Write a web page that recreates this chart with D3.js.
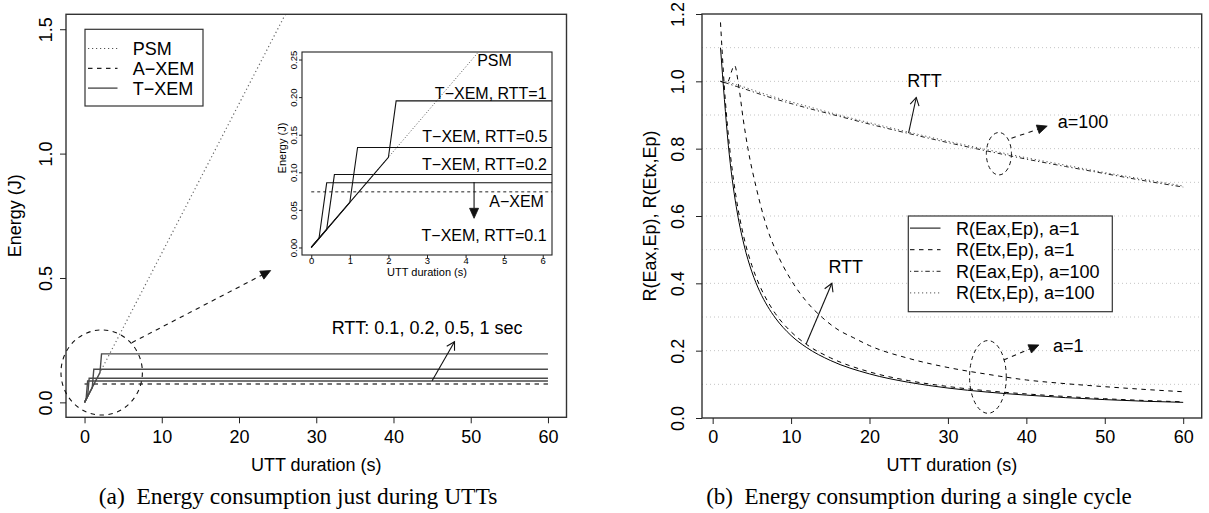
<!DOCTYPE html>
<html><head><meta charset="utf-8">
<script src="https://cdn.jsdelivr.net/npm/d3@7"></script>
<style>
body{margin:0;background:#fff}
svg{display:block}
text{fill:#000}
.sans{font-family:"Liberation Sans",Arial,Helvetica,sans-serif}
.serif{font-family:"Liberation Serif","Times New Roman",serif}
</style>
</head><body>
<svg id="c" width="1209" height="513"></svg>
<script>
// ---------------- DATA ----------------
// (a) Energy consumption just during UTTs
const rttValues      = [0.1, 0.2, 0.5, 1];
const txemJumpStartX = [0.2, 0.4, 1.0, 2.0];
const txemJumpStartY = [0.012, 0.024, 0.06, 0.12];
const txemJumpEndX   = [0.4, 0.6, 1.2, 2.2];
const txemLevels     = [0.086, 0.097, 0.133, 0.195];
const txemEndX       = 60;
const psmX  = [0, 60];
const psmY  = [0, 3.6];
const axemX = [0, 60];
const axemY = [0.074, 0.074];
const xTicksA = [0, 10, 20, 30, 40, 50, 60];
const yTicksA = [0.0, 0.5, 1.0, 1.5];
const xTicksInset = [0, 1, 2, 3, 4, 5, 6];
const yTicksInset = [0.00, 0.05, 0.10, 0.15, 0.20, 0.25];
const legendA = ["PSM", "A\u2212XEM", "T\u2212XEM"];

// (b) Energy consumption during a single cycle
const xA1      = [1, 1.5, 2, 2.5, 3, 4, 5, 6, 7, 8, 10, 12, 15, 20, 25, 30, 35, 40, 45, 50, 55, 60];
const eaxA1    = [1.10, 0.946, 0.810, 0.708, 0.629, 0.514, 0.434, 0.376, 0.332, 0.297, 0.245, 0.209, 0.171, 0.131, 0.106, 0.089, 0.077, 0.068, 0.0605, 0.0546, 0.0498, 0.0465];
const etxA1Low = [1.175, 0.980, 0.840, 0.736, 0.654, 0.535, 0.453, 0.393, 0.347, 0.310, 0.256, 0.218, 0.179, 0.137, 0.111, 0.0936, 0.0808, 0.0715, 0.0639, 0.0573, 0.0521, 0.048];
const xA1High  = [1, 1.8, 2.8, 3.3, 3.9, 4.5, 5.6, 7, 8, 10, 12, 14, 16, 18, 20, 25, 30, 35, 40, 45, 50, 55, 60];
const etxA1High= [1.0, 0.995, 1.047, 0.99, 0.887, 0.80, 0.68, 0.56, 0.50, 0.41, 0.345, 0.298, 0.262, 0.238, 0.215, 0.177, 0.150, 0.130, 0.113, 0.102, 0.093, 0.085, 0.078];
const xA100    = [1, 2, 3, 4, 5, 7.5, 10, 12.5, 15, 20, 25, 30, 35, 40, 45, 50, 55, 60];
const eaxA100  = [1.0, 0.993, 0.985, 0.978, 0.970, 0.951, 0.934, 0.918, 0.903, 0.873, 0.845, 0.818, 0.793, 0.769, 0.747, 0.726, 0.705, 0.686];
const etxA100  = [1.0, 0.997, 0.990, 0.983, 0.975, 0.956, 0.939, 0.923, 0.907, 0.877, 0.849, 0.822, 0.797, 0.773, 0.751, 0.729, 0.709, 0.689];
const xTicksB = [0, 10, 20, 30, 40, 50, 60];
const yTicksB = [0.0, 0.2, 0.4, 0.6, 0.8, 1.0, 1.2];
const gridB   = [0.1, 0.2, 0.3, 0.4, 0.5, 0.6, 0.7, 0.8, 0.9, 1.0, 1.1];
const legendB = ["R(Eax,Ep), a=1", "R(Etx,Ep), a=1", "R(Eax,Ep), a=100", "R(Etx,Ep), a=100"];

// ---------------- LAYOUT ----------------
const svg = d3.select("#c");
const DASH = "4.5,4.5", DOT = "1.2,2.8", DOTDASH = "1.2,2.8,4.5,2.8";
const FS = 18;

const boxA = {l: 66, r: 566.5, t: 14.3, b: 417.3};
const boxI = {l: 302, r: 552, t: 52, b: 255};
const boxB = {l: 702, r: 1201.7, t: 14, b: 418};

const xA = d3.scaleLinear([-2.4, 62.4], [boxA.l, boxA.r]);
const yA = d3.scaleLinear([-0.06, 1.56], [boxA.b, boxA.t]);
const xI = d3.scaleLinear([-0.24, 6.24], [boxI.l, boxI.r]);
const yI = d3.scaleLinear([-0.01, 0.26], [boxI.b, boxI.t]);
const xB = d3.scaleLinear([-1.36, 62.36], [boxB.l, boxB.r]);
const yB = d3.scaleLinear([0, 1.2], [boxB.b, boxB.t]);

const defs = svg.append("defs");
function clip(id, b) {
  defs.append("clipPath").attr("id", id).append("rect")
    .attr("x", b.l).attr("y", b.t).attr("width", b.r - b.l).attr("height", b.b - b.t);
}
clip("clipA", boxA); clip("clipI", boxI); clip("clipB", boxB);

function box(g, b, col, w) {
  g.append("rect").attr("x", b.l).attr("y", b.t).attr("width", b.r - b.l).attr("height", b.b - b.t)
    .attr("fill", "none").attr("stroke", col).attr("stroke-width", w);
}
function xAxis(g, x, b, ticks, fmt, size, pad, fs) {
  const ax = g.append("g").attr("transform", `translate(0,${b.b})`)
    .call(d3.axisBottom(x).tickValues(ticks).tickSize(size).tickPadding(pad).tickFormat(fmt));
  ax.select(".domain").remove();
  ax.attr("font-family", null).attr("font-size", null).attr("class", "sans");
  ax.selectAll(".tick line").attr("stroke", "#222");
  ax.selectAll(".tick text").style("font-size", fs + "px");
}
function yAxis(g, y, b, ticks, fmt, size, off, fs) {
  const ax = g.append("g").attr("transform", `translate(${b.l},0)`)
    .call(d3.axisLeft(y).tickValues(ticks).tickSize(size).tickFormat(fmt));
  ax.select(".domain").remove();
  ax.attr("font-family", null).attr("font-size", null).attr("class", "sans");
  ax.selectAll(".tick line").attr("stroke", "#222");
  ax.selectAll(".tick text").style("font-size", fs + "px")
    .attr("transform", "rotate(-90)").attr("x", 0).attr("y", -off).attr("dy", 0)
    .attr("text-anchor", "middle");
}
function txt(g, text, x, y, fs, anchor) {
  return g.append("text").attr("class", "sans").attr("x", x).attr("y", y)
    .attr("text-anchor", anchor || "start").style("font-size", fs + "px").text(text);
}
function rotLabel(g, text, x, y, fs) {
  txt(g, text, x, y, fs, "middle").attr("transform", `rotate(-90,${x},${y})`);
}
function line(g, xs, ys, x, y, style, curve) {
  const pts = xs.map((d, i) => [d, ys[i]]);
  const gen = d3.line().x(d => x(d[0])).y(d => y(d[1])).curve(curve || d3.curveLinear);
  const p = g.append("path").attr("d", gen(pts)).attr("fill", "none")
    .attr("stroke", style.col || "#000").attr("stroke-width", style.w || 1);
  if (style.dash) p.attr("stroke-dasharray", style.dash);
  return p;
}
function arrowFilled(g, x1, y1, x2, y2, dash, col) {
  const ang = Math.atan2(y2 - y1, x2 - x1), L = 10, W = 4.5;
  const bx = x2 - L * Math.cos(ang), by = y2 - L * Math.sin(ang);
  g.append("line").attr("x1", x1).attr("y1", y1).attr("x2", bx).attr("y2", by)
    .attr("stroke", col).attr("stroke-width", 1.1).attr("stroke-dasharray", dash || null);
  const px = -Math.sin(ang), py = Math.cos(ang);
  g.append("path").attr("d", `M${x2},${y2}L${bx + W * px},${by + W * py}L${bx - W * px},${by - W * py}Z`)
    .attr("fill", col).attr("stroke", col).attr("stroke-width", 0.8);
}
function arrowOpen(g, x1, y1, x2, y2, col) {
  const ang = Math.atan2(y2 - y1, x2 - x1), L = 9, a = Math.PI / 6;
  g.append("line").attr("x1", x1).attr("y1", y1).attr("x2", x2).attr("y2", y2)
    .attr("stroke", col).attr("stroke-width", 1.1);
  const p1 = [x2 - L * Math.cos(ang - a), y2 - L * Math.sin(ang - a)];
  const p2 = [x2 - L * Math.cos(ang + a), y2 - L * Math.sin(ang + a)];
  g.append("path").attr("d", `M${p1[0]},${p1[1]}L${x2},${y2}L${p2[0]},${p2[1]}`)
    .attr("fill", "none").attr("stroke", col).attr("stroke-width", 1.1);
}

// ================= PANEL (a) =================
const gA = svg.append("g");
const gAc = gA.append("g").attr("clip-path", "url(#clipA)");
const colA = "#4a4a4a";
line(gAc, psmX, psmY, xA, yA, {col: "#666", dash: DOT, w: 1.2});
line(gAc, axemX, axemY, xA, yA, {col: colA, dash: DASH, w: 1.4});
rttValues.forEach((r, i) => {
  line(gAc, [0, txemJumpStartX[i], txemJumpEndX[i], txemEndX],
    [0, txemJumpStartY[i], txemLevels[i], txemLevels[i]], xA, yA, {col: colA, w: 1.4});
});
box(gA, boxA, "#333", 1.4);
xAxis(gA, xA, boxA, xTicksA, d3.format("d"), 6, 7.4, FS);
yAxis(gA, yA, boxA, yTicksA, d3.format(".1f"), 6, 14, FS);
rotLabel(gA, "Energy (J)", 21.5, (boxA.t + boxA.b) / 2, FS);
txt(gA, "UTT duration (s)", (boxA.l + boxA.r) / 2, 471, FS, "middle");

// legend (a)
const lgA = gA.append("g");
lgA.append("rect").attr("x", 85).attr("y", 29.3).attr("width", 118).attr("height", 76.7)
  .attr("fill", "#fff").attr("stroke", "#333").attr("stroke-width", 1.2);
const lgAstyles = [{dash: DOT, col: "#555"}, {dash: DASH, col: "#222"}, {col: "#333"}];
legendA.forEach((t, i) => {
  const by = 55 + i * 19.8;
  const l = lgA.append("line").attr("x1", 88).attr("x2", 117.5).attr("y1", by - 6.5).attr("y2", by - 6.5)
    .attr("stroke", lgAstyles[i].col).attr("stroke-width", 1.2);
  if (lgAstyles[i].dash) l.attr("stroke-dasharray", lgAstyles[i].dash);
  txt(lgA, t, 132.7, by, FS);
});

// annotations (a) in data units
const ellA = {cx: 2.22, cy: 0.12, rx: 5.27, ry: 0.171};
gA.append("ellipse").attr("cx", xA(ellA.cx)).attr("cy", yA(ellA.cy))
  .attr("rx", xA(ellA.cx + ellA.rx) - xA(ellA.cx)).attr("ry", yA(ellA.cy) - yA(ellA.cy + ellA.ry))
  .attr("fill", "none").attr("stroke", "#111").attr("stroke-width", 1.1).attr("stroke-dasharray", DASH);
arrowFilled(gA, xA(6.12), yA(0.24), xA(24.1), yA(0.53), DASH, "#111");
txt(gA, "RTT: 0.1, 0.2, 0.5, 1 sec", xA(32.0), yA(0.273), FS);
arrowOpen(gA, xA(45.0), yA(0.087), xA(47.9), yA(0.244), "#111");

// ---------------- inset ----------------
const gI = svg.append("g");
gI.append("rect").attr("x", boxI.l).attr("y", boxI.t).attr("width", boxI.r - boxI.l).attr("height", boxI.b - boxI.t)
  .attr("fill", "#fff");
const gIc = gI.append("g").attr("clip-path", "url(#clipI)");
line(gIc, psmX, psmY, xI, yI, {col: "#555", dash: "1,2", w: 1});
line(gIc, axemX, axemY, xI, yI, {col: "#222", dash: "3,3", w: 1});
rttValues.forEach((r, i) => {
  line(gIc, [0, txemJumpStartX[i], txemJumpEndX[i], txemEndX],
    [0, txemJumpStartY[i], txemLevels[i], txemLevels[i]], xI, yI, {col: "#111", w: 1.1});
});
box(gI, boxI, "#222", 1.1);
xAxis(gI, xI, boxI, xTicksInset, d3.format("d"), 3, -0.6, 9.5);
yAxis(gI, yI, boxI, yTicksInset, d3.format(".2f"), 3, 5, 9.5);
rotLabel(gI, "Energy (J)", 286, 148, 11);
txt(gI, "UTT duration (s)", (boxI.l + boxI.r) / 2, 276, 11, "middle");
const insetLabels = [
  {t: "PSM", x: 4.30, y: 0.241, a: "start"},
  {t: "T\u2212XEM, RTT=1", x: 6.1, y: 0.198, a: "end"},
  {t: "T\u2212XEM, RTT=0.5", x: 6.12, y: 0.1398, a: "end"},
  {t: "T\u2212XEM, RTT=0.2", x: 6.11, y: 0.1035, a: "end"},
  {t: "A\u2212XEM", x: 6.03, y: 0.0533, a: "end"},
  {t: "T\u2212XEM, RTT=0.1", x: 6.1, y: 0.009, a: "end"}
];
insetLabels.forEach(d => txt(gI, d.t, xI(d.x), yI(d.y), 16, d.a));
arrowFilled(gI, xI(4.22), yI(0.087), xI(4.22), yI(0.0388), null, "#111");

// caption (a)
svg.append("text").attr("class", "serif").attr("x", 298).attr("y", 504).attr("text-anchor", "middle")
  .style("font-size", "23.5px").text("(a)\u00a0\u00a0Energy consumption just during UTTs");

// ================= PANEL (b) =================
const gB = svg.append("g");
gridB.forEach(v => gB.append("line").attr("x1", boxB.l).attr("x2", boxB.r).attr("y1", yB(v)).attr("y2", yB(v))
  .attr("stroke", "#c4c4c4").attr("stroke-width", 1).attr("stroke-dasharray", "1,3"));
const gBc = gB.append("g").attr("clip-path", "url(#clipB)");
line(gBc, xA100, etxA100, xB, yB, {dash: DOT, col: "#555"}, d3.curveMonotoneX);
line(gBc, xA100, eaxA100, xB, yB, {dash: DOTDASH, col: "#222"}, d3.curveMonotoneX);
line(gBc, xA1, eaxA1, xB, yB, {col: "#000"}, d3.curveMonotoneX);
line(gBc, xA1, etxA1Low, xB, yB, {dash: DASH, col: "#000"}, d3.curveMonotoneX);
line(gBc, xA1High, etxA1High, xB, yB, {dash: DASH, col: "#000"}, d3.curveMonotoneX);
box(gB, boxB, "#333", 1.4);
xAxis(gB, xB, boxB, xTicksB, d3.format("d"), 6, 6.7, FS);
yAxis(gB, yB, boxB, yTicksB, d3.format(".1f"), 6, 18.5, FS);
rotLabel(gB, "R(Eax,Ep), R(Etx,Ep)", 655.5, (boxB.t + boxB.b) / 2, FS);
txt(gB, "UTT duration (s)", (boxB.l + boxB.r) / 2, 471, FS, "middle");

// legend (b)
const lgB = gB.append("g");
lgB.append("rect").attr("x", 908.3).attr("y", 216).attr("width", 204).attr("height", 95.7)
  .attr("fill", "#fff").attr("stroke", "#333").attr("stroke-width", 1.2);
const lgBstyles = [{col: "#000"}, {dash: DASH, col: "#000"}, {dash: DOTDASH, col: "#222"}, {dash: DOT, col: "#555"}];
legendB.forEach((t, i) => {
  const by = 234.6 + i * 21.6;
  const l = lgB.append("line").attr("x1", 910).attr("x2", 940.5).attr("y1", by - 6.5).attr("y2", by - 6.5)
    .attr("stroke", lgBstyles[i].col).attr("stroke-width", 1);
  if (lgBstyles[i].dash) l.attr("stroke-dasharray", lgBstyles[i].dash);
  txt(lgB, t, 956, by, FS);
});

// annotations (b)
function ell(g, e) {
  g.append("ellipse").attr("cx", xB(e.cx)).attr("cy", yB(e.cy))
    .attr("rx", xB(e.cx + e.rx) - xB(e.cx)).attr("ry", yB(e.cy) - yB(e.cy + e.ry))
    .attr("fill", "none").attr("stroke", "#111").attr("stroke-width", 1).attr("stroke-dasharray", "4,3.5");
}
ell(gB, {cx: 36.5, cy: 0.785, rx: 1.6, ry: 0.063});
ell(gB, {cx: 35.1, cy: 0.122, rx: 2.34, ry: 0.108});
arrowFilled(gB, xB(38.1), yB(0.831), xB(42.66), yB(0.867), DASH, "#111");
arrowFilled(gB, xB(37.1), yB(0.172), xB(41.6), yB(0.217), DASH, "#111");
txt(gB, "a=100", xB(44.0), yB(0.86), FS);
txt(gB, "a=1", xB(43.4), yB(0.1975), FS);
txt(gB, "RTT", xB(24.8), yB(0.983), FS);
arrowOpen(gB, xB(24.98), yB(0.846), xB(25.96), yB(0.952), "#111");
txt(gB, "RTT", xB(14.76), yB(0.43), FS);
arrowOpen(gB, xB(11.92), yB(0.22), xB(15.2), yB(0.40), "#111");

// caption (b)
svg.append("text").attr("class", "serif").attr("x", 919).attr("y", 504).attr("text-anchor", "middle")
  .style("font-size", "23px").text("(b)\u00a0\u00a0Energy consumption during a single cycle");
</script>
</body></html>
